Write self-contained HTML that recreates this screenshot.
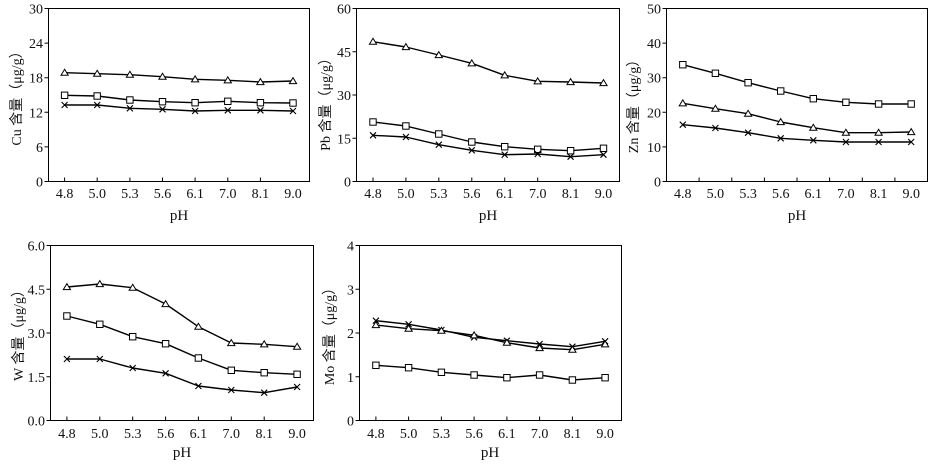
<!DOCTYPE html>
<html><head><meta charset="utf-8"><style>
html,body{margin:0;padding:0;background:#fff;}
svg{display:block;}
text{font-family:"Liberation Serif","Noto Sans CJK SC",serif;fill:#111;}
.t{font-size:14px;}
.ax{font-size:14px;}
.ph{font-size:15px;}
</style></head><body>
<svg width="936" height="468" viewBox="0 0 936 468" xmlns="http://www.w3.org/2000/svg">
<defs>
<marker id="tri" markerUnits="userSpaceOnUse" markerWidth="10" markerHeight="10" refX="5" refY="5" overflow="visible">
<polygon points="5,1.6 8.6,7.6 1.4,7.6" fill="#fff" stroke="#000" stroke-width="1"/>
</marker>
<marker id="sq" markerUnits="userSpaceOnUse" markerWidth="10" markerHeight="10" refX="5" refY="5" overflow="visible">
<rect x="1.8" y="1.8" width="6.4" height="6.4" fill="#fff" stroke="#000" stroke-width="1"/>
</marker>
<marker id="xx" markerUnits="userSpaceOnUse" markerWidth="10" markerHeight="10" refX="5" refY="5" overflow="visible">
<path d="M2,2 L8,8 M8,2 L2,8" stroke="#000" stroke-width="1.1" fill="none"/>
</marker>
</defs>
<g fill="none" stroke="#000" stroke-width="1.4" stroke-linejoin="round">
<!-- Cu -->
<polyline marker-start="url(#tri)" marker-mid="url(#tri)" marker-end="url(#tri)" points="64.6,72.7 97.2,73.7 129.9,74.7 162.5,76.7 195.1,79.3 227.8,80.3 260.4,82 293,81"/>
<polyline marker-start="url(#sq)" marker-mid="url(#sq)" marker-end="url(#sq)" points="64.6,95.3 97.2,96 129.9,100 162.5,101.7 195.1,102.7 227.8,101.3 260.4,102.7 293,103"/>
<polyline marker-start="url(#xx)" marker-mid="url(#xx)" marker-end="url(#xx)" points="64.6,105 97.2,105 129.9,108.3 162.5,109.3 195.1,111 227.8,110.3 260.4,110.3 293,111"/>
<!-- Pb -->
<polyline marker-start="url(#tri)" marker-mid="url(#tri)" marker-end="url(#tri)" points="373,41.7 405.9,47 438.8,55 471.8,63.3 504.7,75.3 537.7,81.3 570.6,82 603.5,83"/>
<polyline marker-start="url(#sq)" marker-mid="url(#sq)" marker-end="url(#sq)" points="373,122 405.9,126 438.8,134 471.8,142 504.7,146.7 537.7,149.3 570.6,150.7 603.5,148.3"/>
<polyline marker-start="url(#xx)" marker-mid="url(#xx)" marker-end="url(#xx)" points="373,135.3 405.9,137 438.8,144.7 471.8,150.3 504.7,154.7 537.7,154 570.6,156.7 603.5,154.7"/>
<!-- Zn -->
<polyline marker-start="url(#sq)" marker-mid="url(#sq)" marker-end="url(#sq)" points="682.8,64.7 715.4,73.3 748.1,82.7 780.7,91 813.3,98.7 845.9,102.3 878.6,104 911.2,104"/>
<polyline marker-start="url(#tri)" marker-mid="url(#tri)" marker-end="url(#tri)" points="682.8,103.3 715.4,108.7 748.1,113.7 780.7,122 813.3,127.7 845.9,132.7 878.6,132.7 911.2,132"/>
<polyline marker-start="url(#xx)" marker-mid="url(#xx)" marker-end="url(#xx)" points="682.8,124.7 715.4,128 748.1,132.7 780.7,138.3 813.3,140.3 845.9,142 878.6,142 911.2,142"/>
<!-- W -->
<polyline marker-start="url(#tri)" marker-mid="url(#tri)" marker-end="url(#tri)" points="66.9,287 99.8,284 132.7,287.7 165.6,304 198.4,326.7 231.3,343 264.2,344.3 297.1,346.7"/>
<polyline marker-start="url(#sq)" marker-mid="url(#sq)" marker-end="url(#sq)" points="66.9,316 99.8,324.3 132.7,336.7 165.6,343.7 198.4,358 231.3,370.3 264.2,372.7 297.1,374.3"/>
<polyline marker-start="url(#xx)" marker-mid="url(#xx)" marker-end="url(#xx)" points="66.9,359 99.8,359 132.7,368 165.6,373.3 198.4,386 231.3,390 264.2,392.7 297.1,387"/>
<!-- Mo -->
<polyline marker-start="url(#xx)" marker-mid="url(#xx)" marker-end="url(#xx)" points="375.9,320.7 408.6,324.3 441.4,330 474.1,337.3 506.9,340.7 539.6,344 572.4,346.7 605.1,341.3"/>
<polyline marker-start="url(#tri)" marker-mid="url(#tri)" marker-end="url(#tri)" points="375.9,325 408.6,328.7 441.4,330.7 474.1,335.3 506.9,342.7 539.6,348 572.4,349.7 605.1,344.3"/>
<polyline marker-start="url(#sq)" marker-mid="url(#sq)" marker-end="url(#sq)" points="375.9,365.3 408.6,367.7 441.4,372.3 474.1,375 506.9,377.7 539.6,375 572.4,380 605.1,377.7"/>
</g>
<!-- frames and ticks -->
<g fill="none" stroke="#000" stroke-width="1">
<rect x="48.5" y="8.5" width="261" height="173"/>
<path d="M44.5,8.5H48.5M44.5,43.1H48.5M44.5,77.7H48.5M44.5,112.3H48.5M44.5,146.9H48.5M44.5,181.5H48.5"/>
<path d="M64.6,181.5V177.5M97.2,181.5V177.5M129.9,181.5V177.5M162.5,181.5V177.5M195.1,181.5V177.5M227.8,181.5V177.5M260.4,181.5V177.5"/>
<rect x="356.5" y="8.5" width="263" height="173"/>
<path d="M352.5,8.5H356.5M352.5,51.75H356.5M352.5,95H356.5M352.5,138.25H356.5M352.5,181.5H356.5"/>
<path d="M373,181.5V177.5M405.9,181.5V177.5M438.8,181.5V177.5M471.8,181.5V177.5M504.7,181.5V177.5M537.7,181.5V177.5M570.6,181.5V177.5"/>
<rect x="666.5" y="8.5" width="261" height="173"/>
<path d="M662.5,8.5H666.5M662.5,43.1H666.5M662.5,77.7H666.5M662.5,112.3H666.5M662.5,146.9H666.5M662.5,181.5H666.5"/>
<path d="M699.1,181.5V177.5M731.8,181.5V177.5M764.4,181.5V177.5M797,181.5V177.5M829.6,181.5V177.5M862.3,181.5V177.5M894.9,181.5V177.5"/>
<rect x="50.5" y="245.5" width="263" height="175"/>
<path d="M46.5,245.5H50.5M46.5,289.25H50.5M46.5,333H50.5M46.5,376.75H50.5M46.5,420.5H50.5"/>
<path d="M66.9,420.5V416.5M99.8,420.5V416.5M132.7,420.5V416.5M165.6,420.5V416.5M198.4,420.5V416.5M231.3,420.5V416.5M264.2,420.5V416.5"/>
<rect x="359.5" y="245.5" width="262" height="175"/>
<path d="M355.5,245.5H359.5M355.5,289.25H359.5M355.5,333H359.5M355.5,376.75H359.5M355.5,420.5H359.5"/>
<path d="M375.9,420.5V416.5M408.6,420.5V416.5M441.4,420.5V416.5M474.1,420.5V416.5M506.9,420.5V416.5M539.6,420.5V416.5M572.4,420.5V416.5"/>
</g>
<g class="t" text-anchor="end">
<text x="43" y="13.5">30</text><text x="43" y="48.1">24</text><text x="43" y="82.7">18</text><text x="43" y="117.3">12</text><text x="43" y="151.9">6</text><text x="43" y="186.5">0</text>
<text x="351" y="13.5">60</text><text x="351" y="56.75">45</text><text x="351" y="100">30</text><text x="351" y="143.25">15</text><text x="351" y="186.5">0</text>
<text x="661" y="13.5">50</text><text x="661" y="48.1">40</text><text x="661" y="82.7">30</text><text x="661" y="117.3">20</text><text x="661" y="151.9">10</text><text x="661" y="186.5">0</text>
<text x="45" y="250.5">6.0</text><text x="45" y="294.25">4.5</text><text x="45" y="338">3.0</text><text x="45" y="381.75">1.5</text><text x="45" y="425.5">0.0</text>
<text x="354" y="250.5">4</text><text x="354" y="294.25">3</text><text x="354" y="338">2</text><text x="354" y="381.75">1</text><text x="354" y="425.5">0</text>
</g>
<g class="t" text-anchor="middle">
<text x="64.6" y="198">4.8</text><text x="97.2" y="198">5.0</text><text x="129.9" y="198">5.3</text><text x="162.5" y="198">5.6</text><text x="195.1" y="198">6.1</text><text x="227.8" y="198">7.0</text><text x="260.4" y="198">8.1</text><text x="293" y="198">9.0</text>
<text x="373" y="198">4.8</text><text x="405.9" y="198">5.0</text><text x="438.8" y="198">5.3</text><text x="471.8" y="198">5.6</text><text x="504.7" y="198">6.1</text><text x="537.7" y="198">7.0</text><text x="570.6" y="198">8.1</text><text x="603.5" y="198">9.0</text>
<text x="682.8" y="198">4.8</text><text x="715.4" y="198">5.0</text><text x="748.1" y="198">5.3</text><text x="780.7" y="198">5.6</text><text x="813.3" y="198">6.1</text><text x="845.9" y="198">7.0</text><text x="878.6" y="198">8.1</text><text x="911.2" y="198">9.0</text>
<text x="66.9" y="438">4.8</text><text x="99.8" y="438">5.0</text><text x="132.7" y="438">5.3</text><text x="165.6" y="438">5.6</text><text x="198.4" y="438">6.1</text><text x="231.3" y="438">7.0</text><text x="264.2" y="438">8.1</text><text x="297.1" y="438">9.0</text>
<text x="375.9" y="438">4.8</text><text x="408.6" y="438">5.0</text><text x="441.4" y="438">5.3</text><text x="474.1" y="438">5.6</text><text x="506.9" y="438">6.1</text><text x="539.6" y="438">7.0</text><text x="572.4" y="438">8.1</text><text x="605.1" y="438">9.0</text>
</g>
<g class="ph" text-anchor="middle">
<text x="179" y="220">pH</text>
<text x="488" y="220">pH</text>
<text x="797" y="220">pH</text>
<text x="182" y="457">pH</text>
<text x="490" y="457">pH</text>
</g>
<g class="ax" text-anchor="middle">
<text transform="translate(21,95) rotate(-90)">Cu 含量（μg/g）</text>
<text transform="translate(330,101) rotate(-90)">Pb 含量（μg/g）</text>
<text transform="translate(638,103) rotate(-90)">Zn 含量（μg/g）</text>
<text transform="translate(23,332) rotate(-90)">W 含量（μg/g）</text>
<text transform="translate(334,333) rotate(-90)">Mo 含量（μg/g）</text>
</g>
</svg>
</body></html>
